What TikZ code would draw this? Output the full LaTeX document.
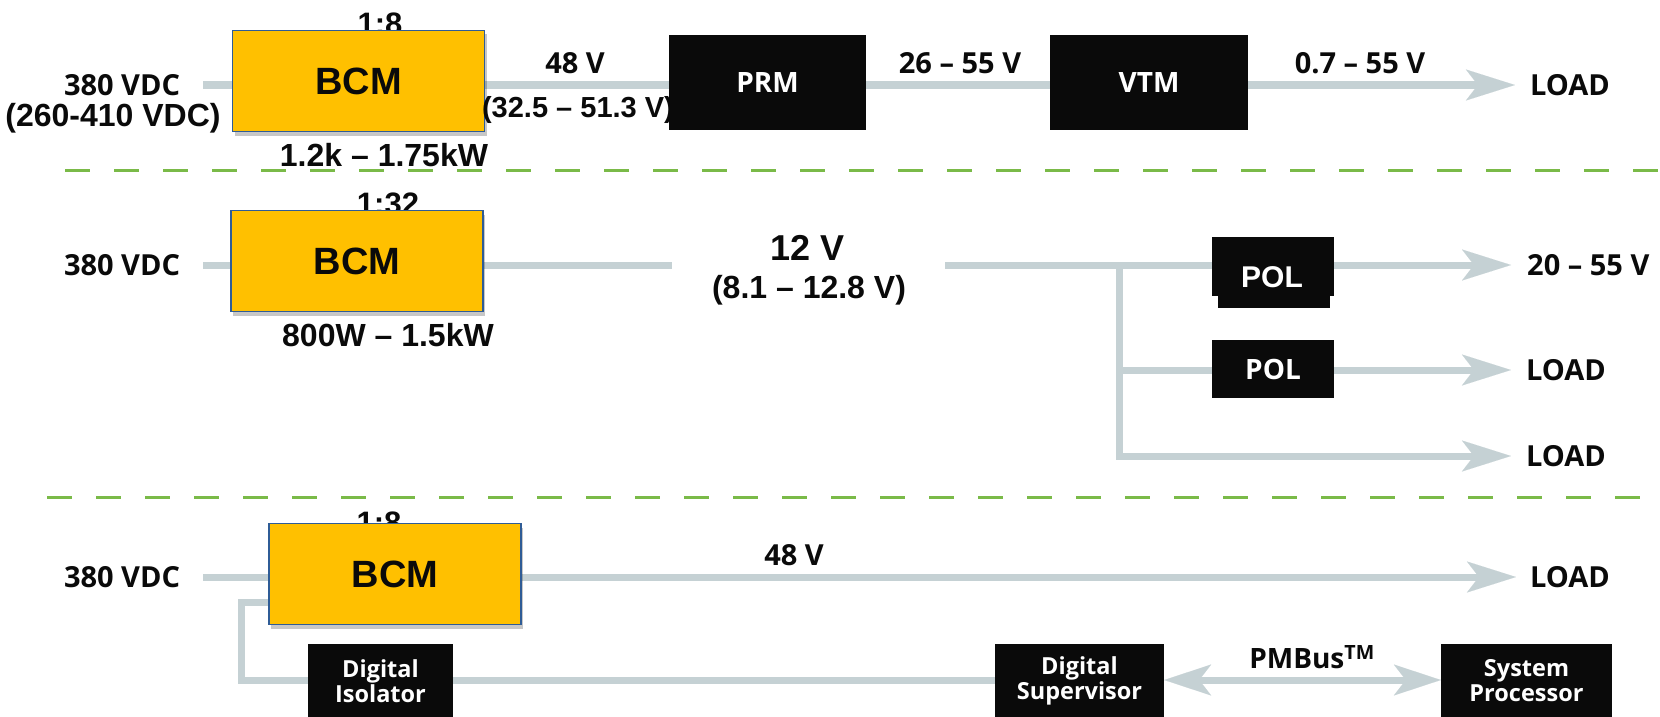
\documentclass[tikz,border=0pt]{standalone}
\usepackage{fontspec}
\setmainfont{Open Sans}
\newfontfamily\arialf{Liberation Sans}
\usetikzlibrary{arrows.meta,shadows}
\definecolor{wire}{RGB}{197,209,212}
\definecolor{sepc}{RGB}{122,186,72}
\definecolor{gold}{RGB}{255,192,0}
\definecolor{bcmedge}{RGB}{47,92,150}
\definecolor{ink}{RGB}{10,10,10}
\pgfdeclarelayer{bg}
\pgfsetlayers{bg,main}
\begin{document}
\begin{tikzpicture}[x=1pt,y=-1pt,
  wire/.style={draw=wire,line width=7pt},
  tipw/.style={-{Stealth[length=49pt,width=31pt,inset=12pt,line width=0.01pt]}},
  arr/.style={wire,tipw},
  sepline/.style={draw=sepc,line width=3pt,dash pattern=on 24.5pt off 24.5pt},
  bcm/.style={draw=bcmedge,line width=1.5pt,fill=gold,minimum width=252pt,minimum height=101pt,inner sep=0pt,
    font=\arialf\bfseries\fontsize{38}{40}\selectfont,text=ink,
    drop shadow={shadow xshift=2pt,shadow yshift=-4pt,opacity=0.22,fill=black}},
  lab/.style={font=\bfseries\fontsize{29}{31}\selectfont,text=ink,inner sep=0pt},
  alab/.style={font=\arialf\bfseries\fontsize{32}{34}\selectfont,text=ink,inner sep=0pt},
  blk/.style={fill=ink,text=white,inner sep=0pt,font=\bfseries\fontsize{28}{30}\selectfont},
  blk2/.style={fill=ink,text=white,inner sep=0pt,align=center,minimum height=74pt,
    font=\bfseries\fontsize{23.5}{25}\selectfont},
]
\useasboundingbox (0,0) rectangle (1660,717);
\clip (0,0) rectangle (1660,717);

% ---------- separators
\coordinate (d1a) at (65,170);  \coordinate (d1b) at (1660,170);
\coordinate (d2a) at (47,497);  \coordinate (d2b) at (1660,497);
\draw[sepline] (d1a) -- (d1b);
\draw[sepline] (d2a) -- (d2b);

% ---------- row 1
\node[lab] (in1) at (122,85) {380 VDC};
\node[alab] (in1r) at (113,118) {(260-410 VDC)};
\node[alab,font=\arialf\bfseries\fontsize{31}{33}\selectfont] (rat1) at (380,24) {1:8};
\node[bcm] (bcm1) at (358.5,81) {BCM};
\node[alab] (pw1) at (384,155) {1.2k – 1.75kW};
\node[lab] (v48a) at (575,63) {48 V};
\node[alab,font=\arialf\bfseries\fontsize{29}{31}\selectfont] (v48r) at (578,110) {(32.5 – 51.3 V)};
\node[blk,minimum width=197pt,minimum height=95pt] (prm) at (767.5,82.5) {PRM};
\node[blk,minimum width=198pt,minimum height=95pt] (vtm) at (1149,82.5) {VTM};
\node[lab] (v2655) at (960,63) {26 – 55 V};
\node[lab] (v0755) at (1360,63) {0.7 – 55 V};
\node[lab] (load1) at (1570,85) {LOAD};
\coordinate (s1) at (203,85);

% ---------- row 2
\node[lab] (in2) at (122,265) {380 VDC};
\node[alab,font=\arialf\bfseries\fontsize{31}{33}\selectfont] (rat2) at (388,204) {1:32};
\node[bcm] (bcm2) at (357,261) {BCM};
\node[alab] (pw2) at (388,335) {800W – 1.5kW};
\node[alab,font=\arialf\bfseries\fontsize{36}{38}\selectfont] (v12) at (808,248) {12 V};
\node[alab] (v12r) at (809,290) {(8.1 – 12.8 V)};
\node[blk,minimum width=122pt,minimum height=59pt] (pol1) at (1273,266.5) {};
\fill[ink] ([xshift=6pt]pol1.south west) rectangle ([xshift=-4pt,yshift=-12pt]pol1.south east);
\node[text=white,inner sep=0pt,font=\arialf\bfseries\fontsize{30}{32}\selectfont] (pol1t) at (1272,277) {POL};
\node[blk,minimum width=122pt,minimum height=58pt] (pol2) at (1273,369) {POL};
\node[lab,anchor=west] (v2055) at (1527,265) {20 – 55 V};
\node[lab] (load2) at (1566,370) {LOAD};
\node[lab] (load3) at (1566,456) {LOAD};
\coordinate (s2) at (203,265);
\coordinate (g2a) at (672,265);
\coordinate (g2b) at (945,265);
\coordinate (j1) at (1119,265);

% ---------- row 3
\node[lab] (in3) at (122,577) {380 VDC};
\node[alab,font=\arialf\bfseries\fontsize{31}{33}\selectfont] (rat3) at (379,523) {1:8};
\node[bcm] (bcm3) at (395,574) {BCM};
\node[lab] (v48b) at (794,555) {48 V};
\node[lab] (load4) at (1570,577) {LOAD};
\node[blk2,minimum width=145pt] (iso) at (380.5,681) {Digital\\Isolator};
\node[blk2,minimum width=169pt] (sup) at (1079.5,681) {Digital\\Supervisor};
\node[blk2,minimum width=171pt] (sysp) at (1526.5,681) {System\\Processor};
\node[lab,font=\bfseries\fontsize{28}{30}\selectfont] (pmb) at (1312,657) {PMBus\textsuperscript{TM}};
\coordinate (s3) at (203,577);
\coordinate (f1) at (241,602);
\coordinate (f2) at (241,680);

% ---------- connectors (behind)
\begin{pgfonlayer}{bg}
\draw[wire] (s1) -- (bcm1.west |- s1);
\draw[wire] (bcm1.east |- s1) -- (prm.west |- s1);
\draw[wire] (prm.east |- s1) -- (vtm.west |- s1);
\draw[arr] (vtm.east |- s1) -- ([xshift=-15pt]load1.west);

\draw[wire] (s2) -- (bcm2.west |- s2);
\draw[wire] (bcm2.east |- s2) -- (g2a);
\draw[wire] (g2b) -- (pol1.west |- g2b);
\draw[arr] (pol1.east |- g2b) -- ([xshift=-16pt]v2055.west);
\draw[wire] (j1) |- (pol2.west |- load2.west);
\draw[arr] (pol2.east |- load2.west) -- ([xshift=-15pt]load2.west);
\draw[arr] (j1) |- ([xshift=-15pt]load3.west);

\draw[wire] (s3) -- (bcm3.west |- s3);
\draw[arr] (bcm3.east |- s3) -- ([xshift=-14pt]load4.west);
\draw[wire] (bcm3.west |- f1) -- (f1) -- (f2) -- (iso.west |- f2);
\draw[wire] (iso.east |- f2) -- (sup.west |- f2);
\draw[wire,{Stealth[length=47pt,width=31pt,inset=12pt,line width=0.01pt]}-{Stealth[length=47pt,width=31pt,inset=12pt,line width=0.01pt]}] (sup.east |- f2) -- (sysp.west |- f2);
\end{pgfonlayer}
\end{tikzpicture}
\end{document}
